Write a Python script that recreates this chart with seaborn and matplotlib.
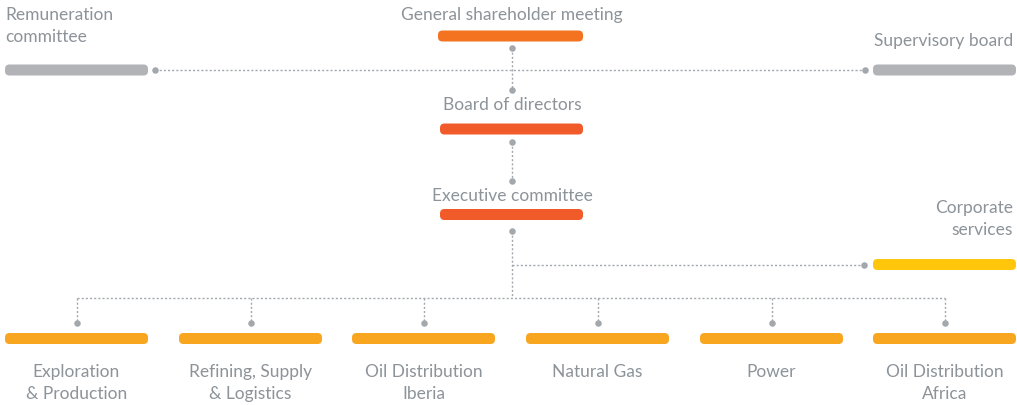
import matplotlib
matplotlib.use("Agg")
import matplotlib.pyplot as plt
from matplotlib.patches import FancyBboxPatch
import seaborn as sns
import pandas as pd

# ---- content ----
top_names = ["Remuneration\ncommittee", "General shareholder meeting", "Supervisory board",
             "Board of directors", "Executive committee", "Corporate\nservices"]
unit_names = ["Exploration\n& Production", "Refining, Supply\n& Logistics", "Oil Distribution\nIberia",
              "Natural Gas", "Power", "Oil Distribution\nAfrica"]

# ---- layout (pixel coordinates, y downwards) ----
top_x0 = [5, 438, 873, 440, 440, 873]
top_x1 = [148, 583, 1016, 583, 583, 1016]
top_yc = [70, 36, 70, 129, 214.5, 264.5]
top_colors = ["#b1b3b6", "#f37321", "#b1b3b6", "#f15a29", "#f15a29", "#ffc60b"]
top_tx = [5, 512, 1013, 512, 512, 1013]
top_ty = [15, 15, 41, 105, 196, 208]   # first-line centre
top_ha = ["left", "center", "right", "center", "center", "right"]

unit_x0 = [5, 179, 352, 526, 700, 873]
unit_w = 143
unit_yc = 338.5
unit_color = "#f8a51f"
unit_label_y = 372
LINE_GAP = 22

TEXT = "#8c9399"
LINE = "#a3a8ad"
BAR_H = 11

sns.set_theme(style="white")
plt.rcParams['font.family'] = ['Lato', 'DejaVu Sans']

fig = plt.figure(figsize=(10.17, 4.05), dpi=100)
ax = fig.add_axes([0, 0, 1, 1])
ax.set_xlim(0, 1017)
ax.set_ylim(405, 0)
ax.axis("off")

def bar(x0, x1, yc, color):
    r = BAR_H / 2 - 1
    p = FancyBboxPatch((x0 + r, yc - BAR_H / 2 + r), (x1 - x0) - 2 * r, BAR_H - 2 * r,
                       boxstyle=f"round,pad={r}", linewidth=0, facecolor=color)
    ax.add_patch(p)

def label(x, y, text, ha):
    for i, line in enumerate(text.split("\n")):
        ax.text(x, y + i * LINE_GAP, line, ha=ha, va="center", color=TEXT,
                fontsize=12.5)

for name, x0, x1, yc, c, tx, ty, ha in zip(top_names, top_x0, top_x1, top_yc, top_colors,
                                            top_tx, top_ty, top_ha):
    bar(x0, x1, yc, c)
    label(tx, ty, name, ha)

centers = []
for name, x0 in zip(unit_names, unit_x0):
    bar(x0, x0 + unit_w, unit_yc, unit_color)
    cx = x0 + unit_w / 2
    centers.append(cx)
    label(cx, unit_label_y, name, "center")

ls = dict(color=LINE, lw=1, ls=(0, (1.5, 1.5)))
segs = [
    ((512, 512), (48, 90)),
    ((155, 865), (70, 70)),
    ((512, 512), (142, 181)),
    ((512, 512), (231, 298)),
    ((512, 864), (265, 265)),
    ((centers[0], centers[-1]), (298, 298)),
]
for cx in centers:
    segs.append(((cx, cx), (298, 323)))
for xs, ys in segs:
    ax.plot(xs, ys, **ls)

dots = pd.DataFrame({
    "x": [512, 512, 155, 865, 512, 512, 512, 864] + centers,
    "y": [48, 90, 70, 70, 142, 181, 231, 265] + [323] * len(centers),
})
sns.scatterplot(data=dots, x="x", y="y", ax=ax, color=LINE, s=22, linewidth=0, zorder=3)
ax.set_xlim(0, 1017)
ax.set_ylim(405, 0)
ax.axis("off")

fig.savefig("out.png", dpi=100)
